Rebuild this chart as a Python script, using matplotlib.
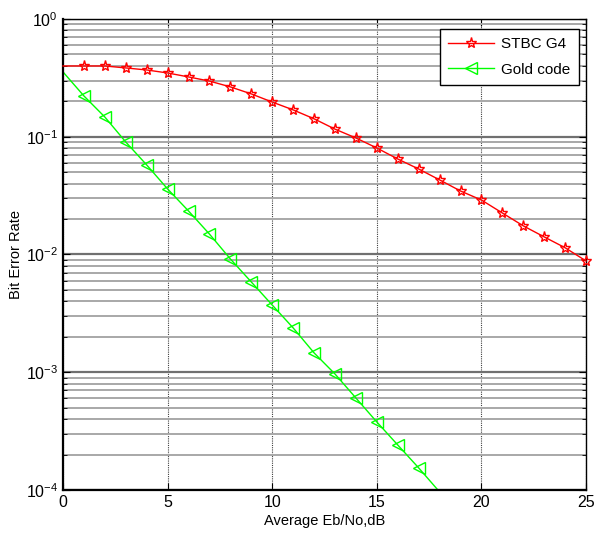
import matplotlib
matplotlib.use('agg')
import matplotlib.pyplot as plt
from matplotlib.ticker import LogLocator, FixedLocator, NullFormatter
import numpy as np

plt.rcParams['font.family'] = ['Liberation Sans', 'DejaVu Sans']

# data
snr_db = list(range(0, 26))
ber_stbc = [0.399, 0.399, 0.399, 0.384, 0.369, 0.348, 0.322, 0.297, 0.265, 0.231,
            0.197, 0.169, 0.142, 0.116, 0.0976, 0.0802, 0.0647, 0.0532, 0.0430,
            0.0346, 0.0290, 0.0225, 0.0175, 0.0141, 0.0114, 0.00881]
snr_gold = list(range(0, 19))
ber_gold = [0.355, 0.222, 0.147, 0.0902, 0.0576, 0.0360, 0.0234, 0.0149, 0.00916,
            0.00584, 0.00372, 0.00238, 0.00146, 0.000966, 0.000604, 0.000378,
            0.000241, 0.000154, 0.0000962]

fig = plt.figure(figsize=(5.95, 5.41), dpi=100)
ax = fig.add_axes([0.1059, 0.0943, 0.8791, 0.8706])

ax.semilogy(snr_db, ber_stbc, color='#ff0000', lw=1, marker='*', ms=8,
            mfc='none', mec='#ff0000', mew=1, markevery=slice(1, None),
            label='STBC G4', clip_on=False, zorder=5)
ax.semilogy(snr_gold, ber_gold, color='#00ff00', lw=1, marker='<', ms=9,
            mfc='none', mec='#00ff00', mew=1, markevery=slice(1, 18),
            label='Gold code')

ax.set_xlim(0, 25)
ax.set_ylim(1e-4, 1)
ax.set_xticks([0, 5, 10, 15, 20, 25])
ax.yaxis.set_major_locator(FixedLocator([1e-4, 1e-3, 1e-2, 1e-1, 1e0]))
ax.yaxis.set_minor_locator(LogLocator(base=10, subs=np.arange(2, 10), numticks=20))
ax.yaxis.set_minor_formatter(NullFormatter())

ax.grid(True, which='major', axis='y', color='#707070', lw=1.6, ls='-')
ax.grid(True, which='minor', axis='y', color='#a8a8a8', lw=1.4, ls='-')
ax.grid(True, which='major', axis='x', color='#404040', lw=0.8, ls=(0, (1, 1)))
ax.set_axisbelow(True)

ax.tick_params(which='both', direction='in', top=True, right=True, labelsize=11.5)
ax.tick_params(which='major', length=5)
ax.tick_params(which='minor', length=3)
for s in ax.spines.values():
    s.set_linewidth(1.0)
    s.set_color('black')
ax.spines['bottom'].set_linewidth(1.6)
ax.spines['left'].set_linewidth(1.6)

ax.set_xlabel('Average Eb/No,dB', fontsize=10.5, labelpad=3)
ax.set_ylabel('Bit Error Rate', fontsize=10.5, labelpad=2)

leg = ax.legend(loc='upper right', fontsize=11, fancybox=False, framealpha=1,
                edgecolor='black', handlelength=3.0, handletextpad=0.5,
                labelspacing=0.75, borderpad=0.55, borderaxespad=0,
                bbox_to_anchor=(0.9866, 0.979))
leg.get_frame().set_linewidth(1.0)

fig.savefig('out.png', dpi=100)
